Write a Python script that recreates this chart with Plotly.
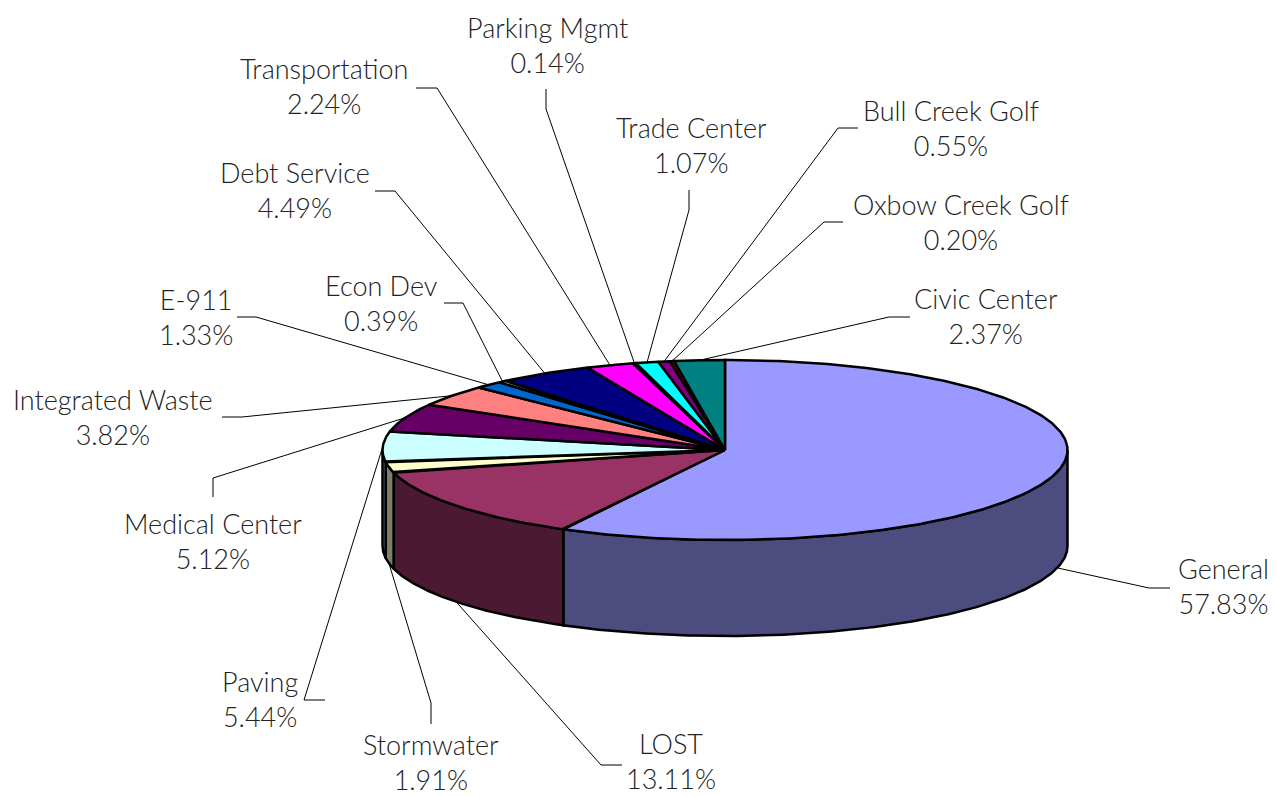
import numpy as np
import plotly.graph_objects as go

# fund shares, in percent (clockwise from 12 o'clock)
funds = ['General', 'LOST', 'Stormwater', 'Paving', 'Medical Center',
         'Integrated Waste', 'E-911', 'Econ Dev', 'Debt Service',
         'Transportation', 'Parking Mgmt', 'Trade Center', 'Bull Creek Golf',
         'Oxbow Creek Golf', 'Civic Center']
shares = [57.83, 13.11, 1.91, 5.44, 5.12, 3.82, 1.33, 0.39, 4.49,
          2.24, 0.14, 1.07, 0.55, 0.20, 2.37]

colors = ['#9999FF', '#993366', '#FFFFCC', '#CCFFFF', '#660066', '#FF8080',
          '#0066CC', '#CCCCFF', '#000080', '#FF00FF', '#FFFF00', '#00FFFF',
          '#800080', '#800000', '#008080']

# label text centre and the two points of the leader stub (label end, elbow)
label_xy = [(1223, 586), (671, 761), (431, 762), (260, 699), (213, 541),
            (113, 417), (196, 317), (381, 303), (295, 190), (324, 86),
            (547, 45), (691, 145), (951, 128), (961, 222), (986, 316)]
stubs = [[(1170, 588), (1149, 588)], [(622, 765), (601, 765)],
         [(431, 724), (431, 703)], [(325, 700), (304, 700)],
         [(213, 497), (213, 478)], [(222, 417), (242, 417)],
         [(237, 317), (256, 317)], [(444, 303), (463, 303)],
         [(375, 191), (395, 191)], [(416, 88), (437, 88)],
         [(546, 89), (546, 109)], [(689, 190), (689, 210)],
         [(858, 128), (838, 128)], [(843, 222), (824, 222)],
         [(910, 317), (889, 317)]]

# pie geometry in page pixels
CX, CY, RX, RY, DEPTH = 725, 450, 342.5, 90, 96


def darker(hexc, f=0.5):
    r, g, b = (int(hexc[i:i + 2], 16) for i in (1, 3, 5))
    return 'rgb(%d,%d,%d)' % (r * f, g * f, b * f)


def rim(t):
    return CX + RX * np.sin(t), CY - RY * np.cos(t)


edges = np.concatenate([[0], np.cumsum(shares)]) / np.sum(shares) * 2 * np.pi

fig = go.Figure()

# visible side walls (front half of the disc)
for i in range(len(shares)):
    a0, a1 = max(edges[i], np.pi / 2), min(edges[i + 1], 1.5 * np.pi)
    if a1 <= a0:
        continue
    t = np.linspace(a0, a1, 200)
    x, y = rim(t)
    xs = np.concatenate([x, x[::-1], x[:1]])
    ys = np.concatenate([y, y[::-1] + DEPTH, y[:1]])
    fig.add_trace(go.Scatter(x=xs, y=ys, mode='lines', fill='toself',
                             fillcolor=darker(colors[i]),
                             line=dict(color='black', width=2.5),
                             hoverinfo='skip', showlegend=False))

# top faces
for i in range(len(shares)):
    t = np.linspace(edges[i], edges[i + 1], 300)
    x, y = rim(t)
    xs = np.concatenate([[CX], x, [CX]])
    ys = np.concatenate([[CY], y, [CY]])
    fig.add_trace(go.Scatter(x=xs, y=ys, mode='lines', fill='toself',
                             fillcolor=colors[i],
                             line=dict(color='black', width=2.5),
                             hoverinfo='skip', showlegend=False))

# leader lines and labels
for i, name in enumerate(funds):
    mid = (edges[i] + edges[i + 1]) / 2
    ax, ay = rim(mid)
    if np.pi / 2 < mid < 1.5 * np.pi:
        ay += DEPTH
    (sx, sy), (ex, ey) = stubs[i]
    fig.add_trace(go.Scatter(x=[sx, ex, ax], y=[sy, ey, ay], mode='lines',
                             line=dict(color='black', width=1),
                             hoverinfo='skip', showlegend=False))
    lx, ly = label_xy[i]
    fig.add_annotation(x=lx, y=ly, text=f'{name}<br>{shares[i]:.2f}%',
                       showarrow=False, align='center',
                       font=dict(family='Lato', size=27, color='#222222',
                                 weight=300))

fig.update_xaxes(range=[0, 1277], visible=False)
fig.update_yaxes(range=[796, 0], visible=False)
fig.update_layout(width=1277, height=796, margin=dict(l=0, r=0, t=0, b=0),
                  plot_bgcolor='white', paper_bgcolor='white')

fig.write_html('out.html', config={'displayModeBar': False},
               post_script="document.body.style.margin='0';")
